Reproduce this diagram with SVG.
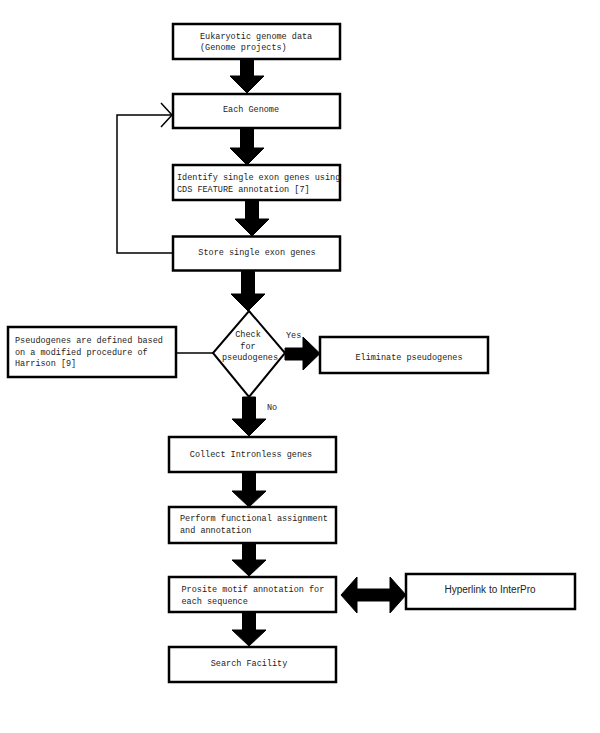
<svg xmlns="http://www.w3.org/2000/svg" width="600" height="733" viewBox="0 0 600 733">
<style>
.box{fill:#fff;stroke:#000;stroke-width:2.5}
.dia{fill:#fff;stroke:#000;stroke-width:2}
.arr{fill:#000;stroke:#000;stroke-width:1}
.ln{fill:none;stroke:#000;stroke-width:1.5}
.t{font-family:"Liberation Mono","Courier New",monospace;font-size:8.5px;fill:#222}
.c{text-anchor:middle}
.s{font-family:"Liberation Sans",Arial,sans-serif;font-size:10px;fill:#222;text-anchor:middle}
</style>
<rect width="600" height="733" fill="#fff"/>
<g id="connectors">
<polygon class="arr" points="240.5,59 253.5,59 253.5,76 264,76 247,93 230,76 240.5,76"/>
<polygon class="arr" points="240.5,128 253.5,128 253.5,148 264,148 247,165 230,148 240.5,148"/>
<polygon class="arr" points="245.5,200 258.5,200 258.5,219 269,219 252,236 235,219 245.5,219"/>
<polygon class="arr" points="241.5,270 254.5,270 254.5,294 265,294 248,311 231,294 241.5,294"/>
<polygon class="arr" points="242.5,397 255.5,397 255.5,419 266,419 249,436 232,419 242.5,419"/>
<polygon class="arr" points="242.5,472 255.5,472 255.5,491 266,491 249,507 232,491 242.5,491"/>
<polygon class="arr" points="242.5,543 255.5,543 255.5,560 266,560 249,576 232,560 242.5,560"/>
<polygon class="arr" points="242.5,612 255.5,612 255.5,630 266,630 249,646 232,630 242.5,630"/>
<polygon class="arr" points="285,348 303,348 303,337 320,353.5 303,370 303,360 285,360"/>
<polygon class="arr" points="341,595 357,577 357,589 390,589 390,577 406,595 390,613 390,601 357,601 357,613"/>
<polyline class="ln" points="173,253 117,253 117,115 172,115"/>
<polyline class="ln" points="161,103 172,115 161,127"/>
<line class="ln" x1="176" y1="353" x2="213" y2="353"/>
<text class="t" x="286" y="338">Yes</text>
<text class="t" x="267" y="410">No</text>
</g>
<g id="n1"><rect class="box" x="173" y="24" width="167" height="35"/>
<text class="t" x="200" y="38.5">Eukaryotic genome data</text>
<text class="t" x="200" y="49.5">(Genome projects)</text></g>
<g id="n2"><rect class="box" x="173" y="94" width="167" height="34"/>
<text class="t c" x="251" y="112">Each Genome</text></g>
<g id="n3"><rect class="box" x="173" y="165" width="167" height="35"/>
<text class="t" x="177" y="180">Identify single exon genes using</text>
<text class="t" x="177" y="192">CDS FEATURE annotation [7]</text></g>
<g id="n4"><rect class="box" x="173" y="236.5" width="167" height="34"/>
<text class="t c" x="257" y="254.5">Store single exon genes</text></g>
<g id="n5"><polygon class="dia" points="249,311 285,353 249,397 213,353"/>
<text class="t c" x="248" y="337">Check</text>
<text class="t c" x="248" y="349">for</text>
<text class="t c" x="250" y="360">pseudogenes</text></g>
<g id="n6"><rect class="box" x="8" y="327" width="168" height="50"/>
<text class="t" x="15" y="343">Pseudogenes are defined based</text>
<text class="t" x="15" y="355">on a modified procedure of</text>
<text class="t" x="15" y="366">Harrison [9]</text></g>
<g id="n7"><rect class="box" x="320" y="337" width="168" height="36"/>
<text class="t c" x="409" y="360">Eliminate pseudogenes</text></g>
<g id="n8"><rect class="box" x="169" y="437" width="167" height="35"/>
<text class="t c" x="251" y="457">Collect Intronless genes</text></g>
<g id="n9"><rect class="box" x="169" y="507" width="167" height="36"/>
<text class="t" x="180" y="521">Perform functional assignment</text>
<text class="t" x="180" y="533">and annotation</text></g>
<g id="n10"><rect class="box" x="169" y="577" width="167" height="35"/>
<text class="t" x="181.5" y="592">Prosite motif annotation for</text>
<text class="t" x="181.5" y="604">each sequence</text></g>
<g id="n11"><rect class="box" x="406" y="574" width="169" height="35"/>
<text class="s" x="490" y="593">Hyperlink to InterPro</text></g>
<g id="n12"><rect class="box" x="169" y="647" width="167" height="35"/>
<text class="t c" x="249" y="666">Search Facility</text></g>
</svg>
